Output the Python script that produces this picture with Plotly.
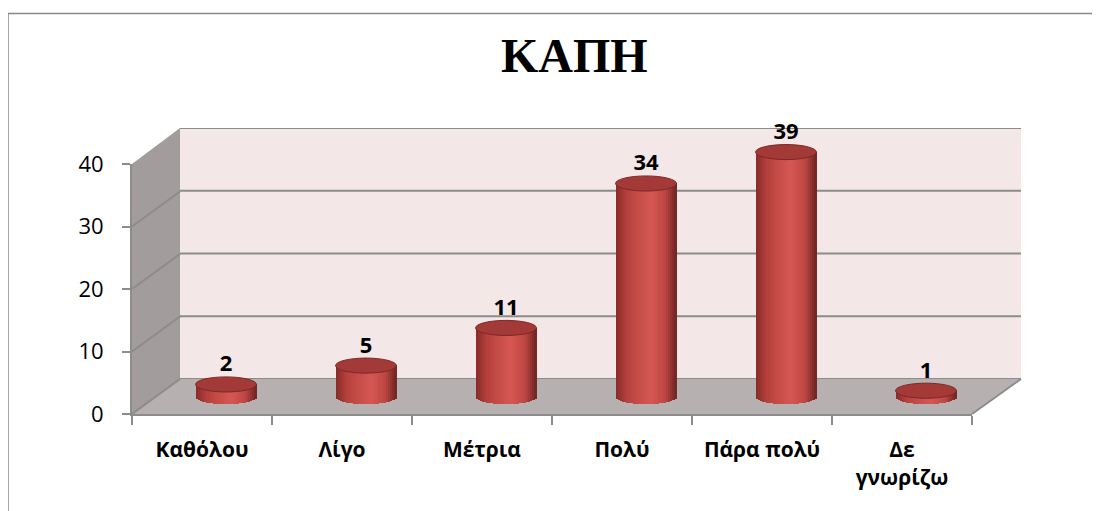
import numpy as np
import plotly.graph_objects as go

# ---------------- data ----------------
categories = ["Καθόλου", "Λίγο", "Μέτρια", "Πολύ", "Πάρα πολύ", "Δε γνωρίζω"]
tick_text = ["Καθόλου", "Λίγο", "Μέτρια", "Πολύ", "Πάρα πολύ", "Δε<br>γνωρίζω"]
values = [2, 5, 11, 34, 39, 1]
y_ticks = [0, 10, 20, 30, 40]
title_text = "ΚΑΠΗ"

# ---------------- layout helpers (pixel -> paper) ----------------
W, H = 1100, 511
OFF = 8  # page body margin
def X(px):
    return (px - OFF) / W
def Y(py):
    return 1 - (py - OFF) / H

BAR_W = 0.435          # cylinder width in category units
RY = 1.2               # ellipse half-height in value units
N_STRIPS = 28
GRID = "rgb(140,140,140)"

stops_u = [-1.0, -0.6, 0.15, 0.6, 1.0]
stops_c = [(135, 42, 40), (184, 66, 63), (214, 88, 84), (192, 72, 68), (112, 36, 34)]
def shade(u):
    r = np.interp(u, stops_u, [c[0] for c in stops_c])
    g = np.interp(u, stops_u, [c[1] for c in stops_c])
    b = np.interp(u, stops_u, [c[2] for c in stops_c])
    return f"rgb({int(r)},{int(g)},{int(b)})"

fig = go.Figure()

# invisible traces to create the axes
fig.add_trace(go.Scatter(x=categories, y=[0] * len(categories), mode="markers",
                         marker=dict(opacity=0), hoverinfo="skip",
                         xaxis="x", yaxis="y", showlegend=False))
fig.add_trace(go.Scatter(x=categories, y=[0] * len(categories), mode="markers",
                         marker=dict(opacity=0), hoverinfo="skip",
                         xaxis="x3", yaxis="y3", showlegend=False))

# cylinder bodies as vertical strips
vals = np.array(values, dtype=float)
sw = BAR_W / N_STRIPS
for k in range(N_STRIPS):
    u = -1 + (2 * k + 1) / N_STRIPS
    base = -RY * np.sqrt(max(0.0, 1 - u * u))
    fig.add_trace(go.Bar(
        x=categories, y=(vals - base).tolist(), base=[base] * len(values),
        offset=-BAR_W / 2 + k * sw, width=sw * 1.15,
        marker=dict(color=shade(u), line=dict(width=0)),
        xaxis="x2", yaxis="y2", hoverinfo="skip", showlegend=False))

# data labels
fig.add_trace(go.Scatter(
    x=categories, y=(vals + RY).tolist(), mode="text",
    text=[str(v) for v in values], textposition="top center",
    textfont=dict(family="Open Sans", size=22, color="black", weight="bold"),
    xaxis="x2", yaxis="y2", hoverinfo="skip", showlegend=False, cliponaxis=False))

shapes = []
# back wall
shapes.append(dict(type="rect", xref="paper", yref="paper",
                   x0=X(180), x1=X(1021), y0=Y(379), y1=Y(128),
                   fillcolor="rgb(243,231,231)", line=dict(width=0), layer="below"))
# left wall
shapes.append(dict(type="path", xref="paper", yref="paper",
                   path=f"M {X(132)},{Y(164)} L {X(180)},{Y(128)} L {X(180)},{Y(379)} L {X(132)},{Y(414)} Z",
                   fillcolor="rgb(162,156,156)", line=dict(width=0), layer="below"))
# floor
shapes.append(dict(type="path", xref="paper", yref="paper",
                   path=f"M {X(132)},{Y(414)} L {X(180)},{Y(379)} L {X(1021)},{Y(379)} L {X(972)},{Y(414)} Z",
                   fillcolor="rgb(182,176,176)", line=dict(width=0), layer="below"))
# back wall grid lines
for t in y_ticks:
    shapes.append(dict(type="line", xref="x3 domain", yref="y3",
                       x0=0, x1=1, y0=t, y1=t,
                       line=dict(color=GRID, width=2), layer="below"))
# side wall grid lines
for t in y_ticks:
    shapes.append(dict(type="line", xref="paper", yref="y",
                       x0=X(132), x1=X(180), y0=t, y1=t + 35 / 6.25,
                       line=dict(color=GRID, width=2), layer="below"))
# floor right edge
shapes.append(dict(type="line", xref="paper", yref="paper",
                   x0=X(972), x1=X(1021), y0=Y(414), y1=Y(379),
                   line=dict(color=GRID, width=2), layer="below"))
# top caps of cylinders
for i, v in enumerate(values):
    shapes.append(dict(type="circle", xref="x2", yref="y2",
                       x0=i - BAR_W / 2, x1=i + BAR_W / 2, y0=v - RY, y1=v + RY,
                       fillcolor="rgb(163,58,55)", line=dict(color="rgb(125,40,38)", width=1),
                       layer="above"))
# chart border
shapes.append(dict(type="path", xref="paper", yref="paper",
                   path=f"M {X(8)},{Y(530)} L {X(8)},{Y(13.5)} L {X(1120)},{Y(13.5)}",
                   line=dict(color="rgb(136,136,136)", width=1.5), layer="above"))

Y2_MIN, Y2_MAX = -3, 45
y2_bottom_px = 397 - Y2_MIN * 6.28
y2_top_px = 397 - Y2_MAX * 6.28

fig.update_layout(
    width=W, height=H,
    margin=dict(l=0, r=0, t=0, b=0, autoexpand=False),
    paper_bgcolor="white", plot_bgcolor="rgba(0,0,0,0)",
    barmode="overlay", bargap=0,
    showlegend=False,
    shapes=shapes,
    xaxis=dict(domain=[X(132), X(972)], type="category", categoryorder="array",
               categoryarray=categories, range=[-0.5, 5.5],
               tickvals=categories, ticktext=tick_text, tickson="boundaries",
               ticks="outside", ticklen=9, tickwidth=1.5, tickcolor=GRID,
               showline=True, linecolor=GRID, linewidth=2,
               showgrid=False, zeroline=False, fixedrange=True, automargin=False,
               tickfont=dict(family="Open Sans", size=21, color="black", weight="bold"),
               ticklabelstandoff=16, anchor="y"),
    yaxis=dict(domain=[Y(414), Y(164)], range=[0, 40], tickvals=y_ticks,
               ticks="outside", ticklen=8, tickwidth=1.5, tickcolor=GRID,
               showline=True, linecolor=GRID, linewidth=2,
               showgrid=False, zeroline=False, fixedrange=True, automargin=False,
               tickfont=dict(family="Open Sans", size=22, color="black"),
               ticklabelstandoff=14, anchor="x"),
    xaxis2=dict(domain=[X(156), X(996)], type="category", categoryorder="array",
                categoryarray=categories, range=[-0.5, 5.5], visible=False,
                anchor="y2", fixedrange=True, automargin=False),
    yaxis2=dict(domain=[Y(y2_bottom_px), Y(y2_top_px)], range=[Y2_MIN, Y2_MAX], visible=False,
                anchor="x2", fixedrange=True, automargin=False),
    xaxis3=dict(domain=[X(180), X(1021)], type="category", categoryorder="array",
                categoryarray=categories, range=[-0.5, 5.5], visible=False,
                anchor="y3", fixedrange=True, automargin=False),
    yaxis3=dict(domain=[Y(379), Y(128)], range=[0, 40], visible=False,
                anchor="x3", fixedrange=True, automargin=False),
    annotations=[dict(text=f"<b>{title_text}</b>", xref="paper", yref="paper",
                      x=X(574), y=Y(55), xanchor="center", yanchor="middle",
                      showarrow=False,
                      font=dict(family="Liberation Serif", size=48, color="black"))],
)

fig.write_html("out.html")
